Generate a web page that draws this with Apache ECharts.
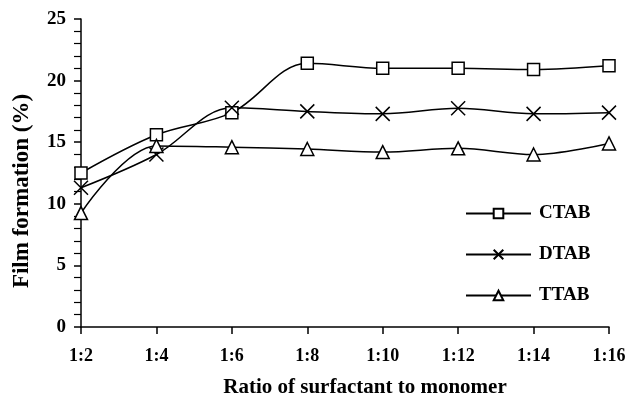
<!DOCTYPE html>
<html><head><meta charset="utf-8">
<script src="https://cdn.jsdelivr.net/npm/echarts@6/dist/echarts.min.js"></script>
<style>html,body{margin:0;padding:0;background:#fff}#c{width:627px;height:397px}</style>
</head><body><div id="c"></div>
<script>
const categories = ['1:2','1:4','1:6','1:8','1:10','1:12','1:14','1:16'];
const ctab = [12.5, 15.6, 17.4, 21.4, 21.0, 21.0, 20.9, 21.2];
const dtab = [11.3, 14.0, 17.8, 17.5, 17.3, 17.75, 17.3, 17.4];
const ttab = [9.25, 14.7, 14.6, 14.45, 14.2, 14.5, 14.0, 14.9];
const seriesNames = ['CTAB','DTAB','TTAB'];

const font = '"Liberation Serif", "Times New Roman", serif';
const crossPath = 'path://M0,0L10,10M10,0L0,10';
function mk(name, data, symbol, size){
  return {
    name, type:'line', data, smooth:0.35, symbol, symbolSize:size,
    lineStyle:{color:'#000', width:1.5},
    itemStyle:{color:'#fff', borderColor:'#000', borderWidth:1.5},
    emphasis:{disabled:true}
  };
}
const chart = echarts.init(document.getElementById('c'));
chart.setOption({
  animation:false,
  backgroundColor:'#fff',
  grid:{left:81, right:18, top:19, bottom:70, containLabel:false, outerBoundsMode:'none'},
  legend:{
    orient:'vertical', left:465, top:204, padding:0, itemWidth:65, itemHeight:12, itemGap:22,
    textStyle:{fontFamily:font, fontWeight:'bold', fontSize:19, color:'#000', padding:[0,0,0,3]},
    data:seriesNames
  },
  xAxis:{
    type:'category', data:categories, boundaryGap:false,
    axisLine:{lineStyle:{color:'#000', width:1.5}},
    axisTick:{alignWithLabel:true, length:7, lineStyle:{color:'#000', width:1.5}},
    axisLabel:{fontFamily:font, fontWeight:'bold', fontSize:18, color:'#000', margin:20},
    name:'Ratio of surfactant to monomer', nameLocation:'middle', nameGap:50,
    nameTextStyle:{fontFamily:font, fontWeight:'bold', fontSize:21, color:'#000', padding:[0,0,0,40]}
  },
  yAxis:{
    type:'value', min:0, max:25, interval:5,
    axisLine:{show:true, lineStyle:{color:'#000', width:1.5}},
    axisTick:{show:true, length:7, lineStyle:{color:'#000', width:1.5}},
    minorTick:{show:true, splitNumber:5, length:7, lineStyle:{color:'#000', width:1.2}},
    splitLine:{show:false},
    axisLabel:{fontFamily:font, fontWeight:'bold', fontSize:19, color:'#000', margin:15},
    name:'Film formation (%)', nameLocation:'middle', nameGap:47, nameRotate:90,
    nameTextStyle:{fontFamily:font, fontWeight:'bold', fontSize:23, color:'#000', padding:[0,36,0,0]}
  },
  series:[
    mk('CTAB', ctab, 'rect', 12),
    mk('DTAB', dtab, crossPath, 14),
    mk('TTAB', ttab, 'triangle', 13)
  ]
});
</script></body></html>
